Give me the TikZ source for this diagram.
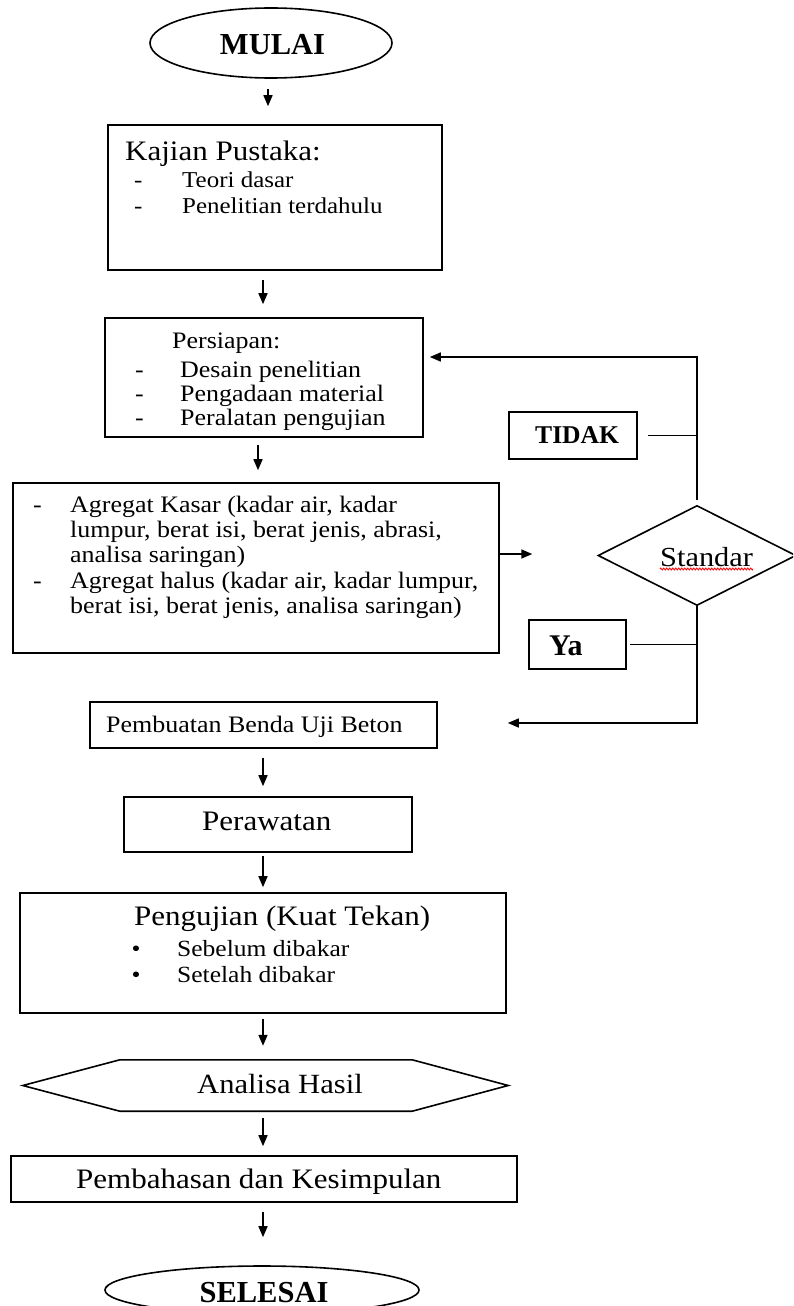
\documentclass[tikz,border=0pt]{standalone}
\usepackage{fontspec}
\setmainfont{Liberation Serif}[FakeStretch=1.1]
\newfontfamily\bfam{Liberation Serif}
\usetikzlibrary{arrows.meta,decorations.pathmorphing,shapes.geometric}
\newcommand\fsz[1]{\fontsize{#1}{#1}\selectfont}
\begin{document}
\begin{tikzpicture}[x=1pt,y=-1pt,
  box/.style={draw, line width=1.6pt, rectangle, inner sep=0pt},
  shapeonly/.style={inner sep=0pt},
  txt/.style={inner sep=0pt, anchor=base west},
  arr/.style={line width=1.5pt, -{Triangle[length=11pt,width=9pt]}},
  conn/.style={line width=1.5pt},
  outline/.style={line width=1.6pt},
]
\useasboundingbox (0,0) rectangle (793,1306);
\clip (0,0) rectangle (793,1306);

% x positions of the vertical arrows
\coordinate (ax1) at (268,0);
\coordinate (ax2) at (263,0);
\coordinate (ax3) at (258,0);
\coordinate (ay) at (0,554);
\coordinate (back) at (0,357);
\coordinate (ret) at (0,723);

% shapes
\node[shapeonly, ellipse, draw, outline, minimum width=242pt, minimum height=70pt] (mulai) at (271,43) {};
\node[box, minimum width=334pt, minimum height=145pt] (kajian) at (275,197.5) {};
\node[box, minimum width=318pt, minimum height=119pt] (persiapan) at (264,377.5) {};
\node[box, minimum width=486pt, minimum height=170pt] (agregat) at (256,568) {};
\node[box, minimum width=128pt, minimum height=47pt] (tidak) at (573,435.5) {};
\node[box, minimum width=97pt, minimum height=49pt] (ya) at (577.5,644.5) {};
\node[shapeonly, minimum width=197pt, minimum height=99pt] (standar) at (697,555.5) {};
\draw[outline] (standar.north) -- (standar.east) -- (standar.south) -- (standar.west) -- cycle;
\node[box, minimum width=347pt, minimum height=46pt] (pembuatan) at (263.5,725) {};
\node[box, minimum width=288pt, minimum height=55pt] (perawatan) at (268,824.5) {};
\node[box, minimum width=486pt, minimum height=120pt] (pengujian) at (263,953) {};
\node[shapeonly, minimum width=485pt, minimum height=51pt] (analisa) at (265.5,1085.5) {};
\draw[outline] (analisa.west) -- ([xshift=97pt]analisa.north west) -- ([xshift=-96pt]analisa.north east)
  -- (analisa.east) -- ([xshift=-96pt]analisa.south east) -- ([xshift=97pt]analisa.south west) -- cycle;
\node[box, minimum width=506pt, minimum height=46pt] (pembahasan) at (264,1179) {};
\node[shapeonly, ellipse, draw, outline, minimum width=314pt, minimum height=48pt] (selesai) at (262,1290) {};

% texts
\node[txt, anchor=base, font=\bfam\fsz{30.5}\bfseries] (tmulai) at (272.5,55) {MULAI};
\node[txt, font=\fsz{28.2}] (tk0) at (125,160) {Kajian Pustaka:};
\node[txt, font=\fsz{22.7}] (tk1d) at (134,187) {-};
\node[txt, font=\fsz{22.7}] (tk1) at (182,187) {Teori dasar};
\node[txt, font=\fsz{22.7}] (tk2d) at (134,213) {-};
\node[txt, font=\fsz{22.7}] (tk2) at (182,213) {Penelitian terdahulu};

\node[txt, font=\fsz{23.6}] (tp0) at (172,348) {Persiapan:};
\node[txt, font=\fsz{23.6}] (tp1d) at (135,377) {-};
\node[txt, font=\fsz{23.6}] (tp1) at (180,377) {Desain penelitian};
\node[txt, font=\fsz{23.6}] (tp2d) at (135,401) {-};
\node[txt, font=\fsz{23.6}] (tp2) at (180,401) {Pengadaan material};
\node[txt, font=\fsz{23.6}] (tp3d) at (135,425) {-};
\node[txt, font=\fsz{23.6}] (tp3) at (180,425) {Peralatan pengujian};

\node[txt, font=\fsz{23.6}] (ta1d) at (33,512) {-};
\node[txt, font=\fsz{23.6}] (ta1) at (70,512) {Agregat Kasar (kadar air, kadar};
\node[txt, font=\fsz{23.6}] (ta2) at (70,537) {lumpur, berat isi, berat jenis, abrasi,};
\node[txt, font=\fsz{23.6}] (ta3) at (70,562.5) {analisa saringan)};
\node[txt, font=\fsz{23.6}] (ta4d) at (33,588) {-};
\node[txt, font=\fsz{23.6}] (ta4) at (70,588) {Agregat halus (kadar air, kadar lumpur,};
\node[txt, font=\fsz{23.6}] (ta5) at (70,613) {berat isi, berat jenis, analisa saringan)};

\node[txt, font=\bfam\fsz{25.6}\bfseries] (ttidak) at (535,443) {TIDAK};
\node[txt, font=\fsz{27.6}] (tstandar) at (660,566) {Standar};
\draw[red, line width=0.9pt, decorate, decoration={zigzag, amplitude=0.9pt, segment length=3pt}]
  ([yshift=-3pt]tstandar.base west) -- ([yshift=-3pt]tstandar.base east);
\node[txt, font=\bfam\fsz{30}\bfseries] (tya) at (549,655) {Ya};

\node[txt, font=\fsz{23.6}] (tpb) at (106,732) {Pembuatan Benda Uji Beton};
\node[txt, font=\fsz{28.2}] (tpr) at (202,830) {Perawatan};
\node[txt, font=\fsz{28.2}] (tpg) at (134,925) {Pengujian (Kuat Tekan)};
\node[txt, anchor=base, font=\fsz{23.2}] (tb1d) at (136,956) {•};
\node[txt, font=\fsz{23.2}] (tb1) at (177,956) {Sebelum dibakar};
\node[txt, anchor=base, font=\fsz{23.2}] (tb2d) at (136,982) {•};
\node[txt, font=\fsz{23.2}] (tb2) at (177,982) {Setelah dibakar};
\node[txt, font=\fsz{27.8}] (tan) at (197,1093) {Analisa Hasil};
\node[txt, font=\fsz{28.2}] (tpk) at (76,1188) {Pembahasan dan Kesimpulan};
\node[txt, anchor=base, font=\bfam\fsz{30.5}\bfseries] (tsel) at (264,1302) {SELESAI};

% connectors
\draw[arr, shorten <=10pt, shorten >=18pt] (mulai.south -| ax1) -- (kajian.north -| ax1);
\draw[arr, shorten <=9pt, shorten >=13pt] (kajian.south -| ax2) -- (persiapan.north -| ax2);
\draw[arr, shorten <=7pt, shorten >=12pt] (persiapan.south -| ax3) -- (agregat.north -| ax3);
\draw[arr, shorten >=66pt] (agregat.east |- ay) -- (standar.west |- ay);
\draw[arr, shorten <=6pt, shorten >=6pt] (standar.north) |- (persiapan.east |- back);
\draw[conn, shorten <=10pt] (tidak.east) -- (tidak.east -| standar.north);
\draw[arr, shorten >=70pt] (standar.south) |- (pembuatan.east |- ret);
\draw[conn, shorten <=3pt] (ya.east) -- (ya.east -| standar.south);
\draw[arr, shorten <=9pt, shorten >=10pt] (pembuatan.south -| ax2) -- (perawatan.north -| ax2);
\draw[arr, shorten <=3pt, shorten >=5pt] (perawatan.south -| ax2) -- (pengujian.north -| ax2);
\draw[arr, shorten <=5pt, shorten >=14pt] (pengujian.south -| ax2) -- (analisa.north -| ax2);
\draw[arr, shorten <=7pt, shorten >=9pt] (analisa.south -| ax2) -- (pembahasan.north -| ax2);
\draw[arr, shorten <=9pt, shorten >=28pt] (pembahasan.south -| ax2) -- (selesai.north -| ax2);
\end{tikzpicture}
\end{document}
